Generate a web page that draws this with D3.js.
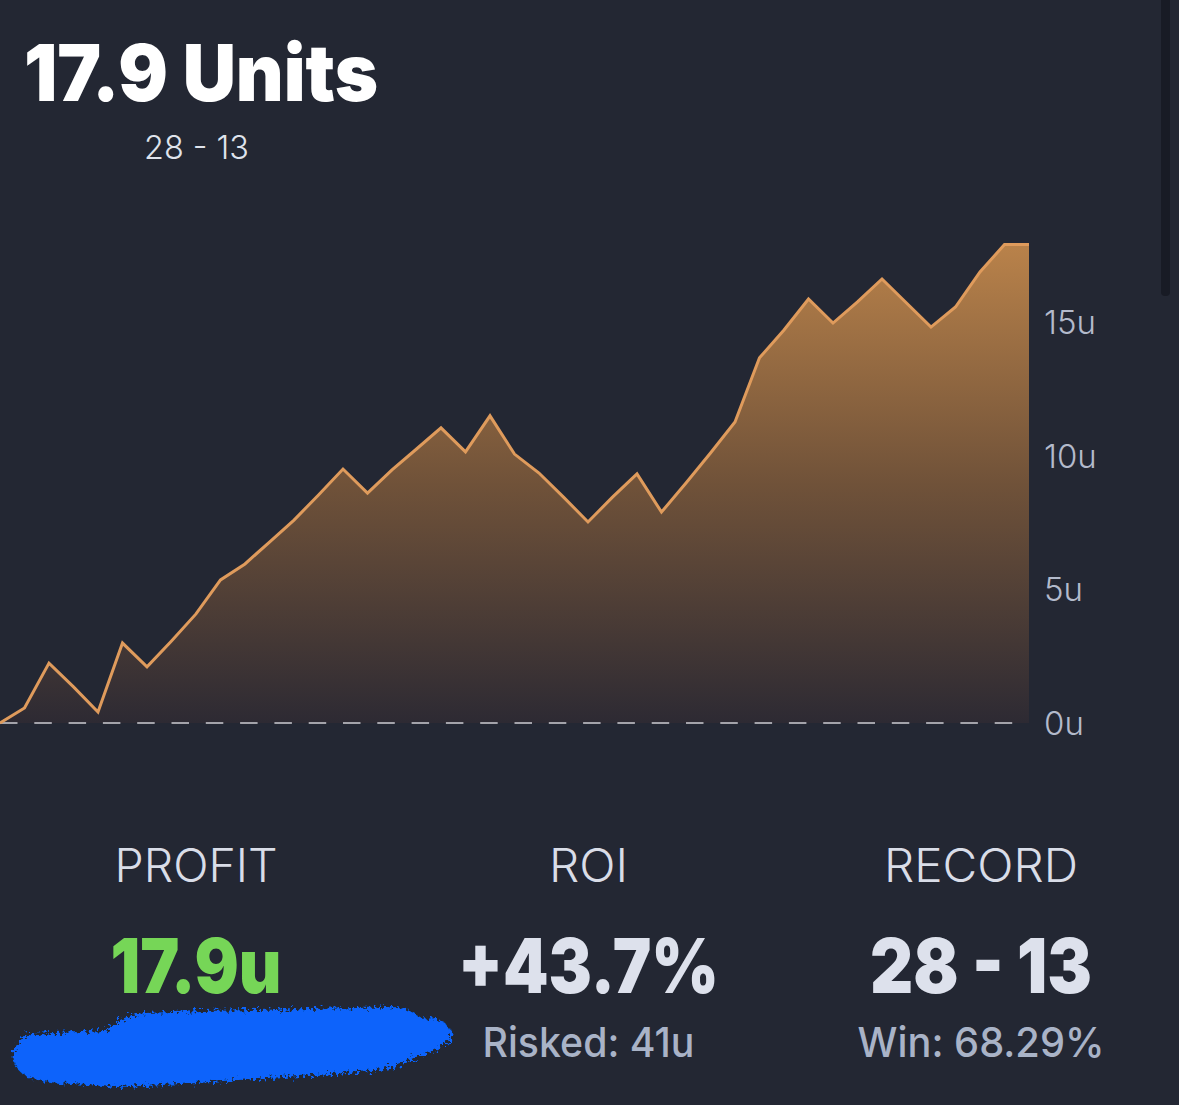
<!DOCTYPE html>
<html>
<head>
<meta charset="utf-8">
<script src="https://cdn.jsdelivr.net/npm/d3@7"></script>
<style>
html, body { margin: 0; padding: 0; background: #232733; overflow: hidden; }
text { font-family: Inter, Lato, sans-serif; }
</style>
</head>
<body>
<div id="chart"></div>
<script>
const profit = [0, 0.56, 2.24, 1.35, 0.41, 2.99, 2.10, 3.07, 4.08, 5.35, 5.95, 6.77, 7.59, 8.53, 9.50, 8.60, 9.47, 10.25, 11.04, 10.14, 11.49, 10.06, 9.35, 8.45, 7.52, 8.45, 9.32, 7.89, 8.98, 10.10, 11.26, 13.66, 14.70, 15.86, 14.96, 15.75, 16.61, 15.71, 14.81, 15.56, 16.87, 17.9, 17.9];
const yTicks = [0, 5, 10, 15];
const statTitles = ["PROFIT", "ROI", "RECORD"];
const statValues = ["17.9u", "+43.7%", "28 - 13"];
const statSubs = ["", "Risked: 41u", "Win: 68.29%"];

const width = 1179;
const height = 1105;

// text widths measured on the reference, the fonts here run wider
const titleWidths = [163, 79, 194];
const valueWidths = [171, 261, 222];
const subWidths = [0, 212, 247];

let svg = d3.select("#chart").append("svg")
  .attr("width", width)
  .attr("height", height)
  .style("display", "block");

let x = d3.scaleLinear().domain([0, profit.length - 1]).range([0, 1029]);
let y = d3.scaleLinear().domain([0, 15]).range([723, 322]);

let defs = svg.append("defs");
let grad = defs.append("linearGradient")
  .attr("id", "fillGrad")
  .attr("gradientUnits", "userSpaceOnUse")
  .attr("x1", 0).attr("x2", 0)
  .attr("y1", y(17.9)).attr("y2", y(0));
grad.append("stop").attr("offset", "0%").attr("stop-color", "#b9824a");
grad.append("stop").attr("offset", "50%").attr("stop-color", "#705239");
grad.append("stop").attr("offset", "100%").attr("stop-color", "#2d2a33");

// rough edge for the scribble
let rough = defs.append("filter").attr("id", "rough")
  .attr("x", "-5%").attr("y", "-20%").attr("width", "110%").attr("height", "140%");
rough.append("feTurbulence").attr("type", "fractalNoise").attr("baseFrequency", 0.3).attr("numOctaves", 3).attr("seed", 4).attr("result", "n");
rough.append("feDisplacementMap").attr("in", "SourceGraphic").attr("in2", "n").attr("scale", 13);

// scrollbar
svg.append("rect").attr("x", 1161).attr("y", -10).attr("width", 9).attr("height", 306).attr("rx", 4).attr("fill", "#181b25");

let area = d3.area().x((d, i) => x(i)).y0(y(0)).y1(d => y(d));
let line = d3.line().x((d, i) => x(i)).y(d => y(d));

svg.append("path").attr("d", area(profit)).attr("fill", "url(#fillGrad)");

svg.append("line")
  .attr("x1", 0).attr("x2", 1014)
  .attr("y1", y(0)).attr("y2", y(0))
  .attr("stroke", "#a3a3aa")
  .attr("stroke-width", 2)
  .attr("stroke-dasharray", "17.5 16.8");

svg.append("path").attr("d", line(profit))
  .attr("fill", "none")
  .attr("stroke", "#df9b5c")
  .attr("stroke-width", 3)
  .attr("stroke-linejoin", "miter");

let axis = d3.axisRight(y).tickValues(yTicks).tickSize(0).tickPadding(15).tickFormat(d => d + "u");
let axisG = svg.append("g").attr("transform", "translate(1029,1)").call(axis);
axisG.select(".domain").remove();
axisG.selectAll("text")
  .style("font-family", "Inter, Lato, sans-serif")
  .style("font-size", "33px")
  .style("font-weight", 300)
  .attr("fill", "#b3bacb");

// header
svg.append("text").attr("x", 24).attr("y", 101)
  .attr("font-size", 79).attr("font-weight", 900).attr("fill", "#fff")
  .attr("textLength", 354).attr("lengthAdjust", "spacingAndGlyphs")
  .text("17.9 Units");
svg.append("text").attr("x", 196.5).attr("y", 159).attr("text-anchor", "middle")
  .attr("font-size", 33).attr("font-weight", 300).attr("fill", "#dfe3ec")
  .attr("textLength", 105).attr("lengthAdjust", "spacingAndGlyphs")
  .text("28 - 13");

// stats
let statX = d3.scalePoint().domain(statTitles).range([196, 981]);
let stats = svg.selectAll(".stat").data(statTitles).join("g")
  .attr("class", "stat")
  .attr("transform", d => `translate(${statX(d)},0)`)
  .attr("text-anchor", "middle");

stats.append("text").attr("y", 882).attr("font-size", 46).attr("font-weight", 300).attr("fill", "#d9dde8")
  .attr("textLength", (d, i) => titleWidths[i]).attr("lengthAdjust", "spacingAndGlyphs")
  .text(d => d);
stats.append("text").attr("y", 993).attr("font-size", 76).attr("font-weight", 900)
  .attr("fill", (d, i) => i === 0 ? "#76d657" : "#dde1ec")
  .attr("textLength", (d, i) => valueWidths[i]).attr("lengthAdjust", "spacingAndGlyphs")
  .text((d, i) => statValues[i]);
stats.filter((d, i) => statSubs[i] !== "").append("text").attr("y", 1057).attr("font-size", 41).attr("font-weight", 500)
  .attr("fill", "#a9b3c7")
  .attr("textLength", d => subWidths[statTitles.indexOf(d)]).attr("lengthAdjust", "spacingAndGlyphs")
  .text(d => statSubs[statTitles.indexOf(d)]);

// blue scribble over the hidden text
svg.append("path")
  .attr("d", "M14 1052 C16 1042 24 1036 30 1034 L106 1031 C116 1020 130 1014 145 1013 C220 1010 330 1009 398 1007 C412 1010 418 1016 425 1020 C432 1016 447 1018 452 1034 C448 1050 425 1052 405 1062 C390 1070 370 1072 300 1076 C230 1080 170 1086 115 1087 C80 1084 50 1084 30 1078 C16 1072 12 1062 14 1052 Z")
  .attr("fill", "#0763fb")
  .attr("filter", "url(#rough)");
</script>
</body>
</html>
